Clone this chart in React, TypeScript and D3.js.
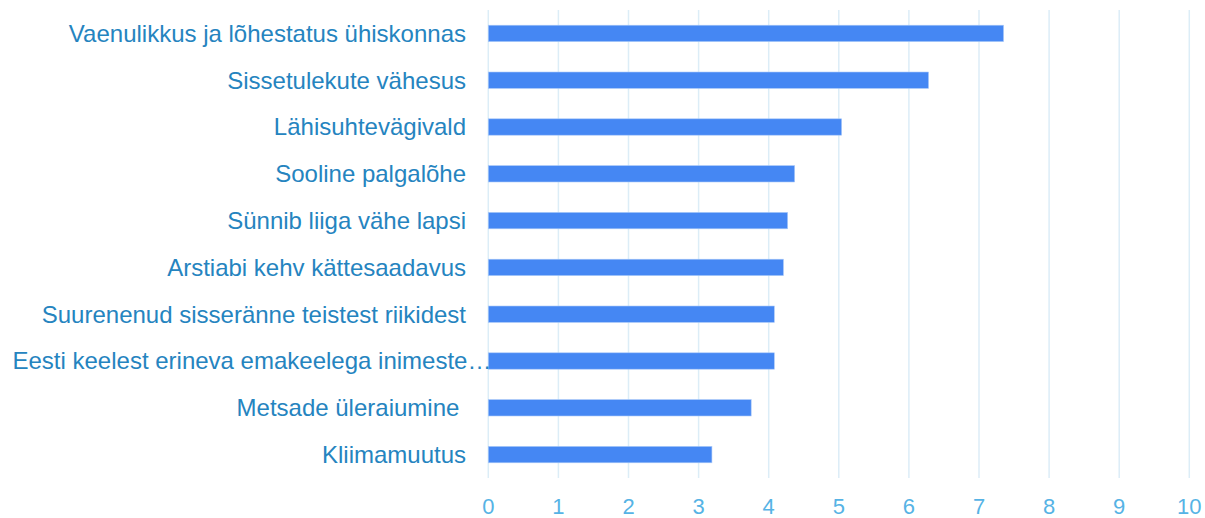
import React from "react";
import * as d3 from "d3";

const categories = [
  "Vaenulikkus ja lõhestatus ühiskonnas",
  "Sissetulekute vähesus",
  "Lähisuhtevägivald",
  "Sooline palgalõhe",
  "Sünnib liiga vähe lapsi",
  "Arstiabi kehv kättesaadavus",
  "Suurenenud sisseränne teistest riikidest",
  "Eesti keelest erineva emakeelega inimeste…",
  "Metsade üleraiumine ",
  "Kliimamuutus",
];
const values = [7.35, 6.28, 5.04, 4.37, 4.27, 4.21, 4.08, 4.08, 3.75, 3.19];
const ticks = [0, 1, 2, 3, 4, 5, 6, 7, 8, 9, 10];

export default function App() {
  const W = 1205, H = 518;
  const x = d3.scaleLinear().domain([0, 10]).range([488.3, 1189.3]);
  const y = d3.scaleBand<string>().domain(categories).range([10, 478]).paddingInner(0.65).paddingOuter(0.325);
  const font = "Arial, 'Liberation Sans', sans-serif";
  return (
    <svg width={W} height={H} style={{ position: "absolute", left: 0, top: 0 }} fontFamily={font}>
      {ticks.map((t) => (
        <line key={"g" + t} x1={x(t)} x2={x(t)} y1={10} y2={478} stroke="#dcedf7" strokeWidth={1.5} />
      ))}
      {categories.map((c, i) => (
        <rect key={c} x={x(0)} y={y(c)!} width={x(values[i]) - x(0)} height={y.bandwidth()} fill="#4587f3" stroke="#a9c8f8" strokeWidth={0.6} />
      ))}
      {categories.map((c) => {
        const truncated = c.endsWith("…");
        return (
          <text key={"l" + c} x={truncated ? 12.5 : 466} y={y(c)! + y.bandwidth() / 2} dy="0.35em"
            textAnchor={truncated ? "start" : "end"} fontSize={24} fill="#2584bf" xmlSpace="preserve" style={{ whiteSpace: "pre" }}>
            {c}
          </text>
        );
      })}
      {ticks.map((t) => (
        <text key={"t" + t} x={x(t)} y={506.5} dy="0.35em" textAnchor="middle" fontSize={22} fill="#56b3e5">
          {t}
        </text>
      ))}
    </svg>
  );
}
